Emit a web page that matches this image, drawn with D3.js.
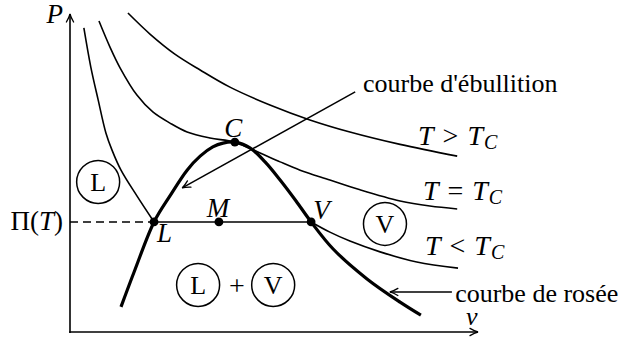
<!DOCTYPE html>
<html>
<head>
<meta charset="utf-8">
<script src="https://cdn.jsdelivr.net/npm/d3@7"></script>
<style>
  body { margin: 0; background: #fff; }
  svg { display: block; }
</style>
</head>
<body>
<svg id="chart" width="631" height="339"></svg>
<script>
// Clapeyron diagram (P, v): isotherms and liquid–vapour saturation curve.
// All values are in arbitrary (v, P) units.

// Isotherm T > Tc
const isoHot = [
  [1.42, 10.03], [1.96, 9.37], [2.57, 8.74], [3.19, 8.24], [3.92, 7.70],
  [4.90, 7.14], [5.88, 6.67], [6.86, 6.29], [8.09, 5.90], [9.49, 5.53]
];

// Critical isotherm T = Tc (passes through C)
const isoCrit = [
  [0.71, 9.78], [0.98, 8.96], [1.23, 8.30], [1.64, 7.45], [2.03, 6.92],
  [2.45, 6.57], [2.87, 6.29], [3.43, 6.10], [4.04, 5.97], [4.66, 5.63],
  [5.15, 5.35], [5.64, 5.09], [6.37, 4.78], [7.11, 4.47], [8.09, 4.12],
  [8.82, 3.96], [9.49, 3.87]
];

// Isotherm T < Tc : liquid branch, plateau at Π(T), vapour branch
const isoColdLiquid = [
  [0.34, 9.56], [0.51, 8.33], [0.69, 7.30], [0.88, 6.26], [1.03, 5.72],
  [1.25, 5.09], [1.64, 4.28], [2.06, 3.46]
];
const isoColdVapour = [
  [5.91, 3.46], [6.37, 3.14], [6.86, 2.86], [7.60, 2.52], [8.50, 2.20], [9.51, 2.01]
];
const plateauP = 3.46;

// Saturation curve: bubble (left) and dew (right) branches meeting at C
const saturation = [
  [1.25, 0.79], [1.59, 1.95], [2.06, 3.46], [2.45, 4.28], [2.87, 5.09],
  [3.19, 5.53], [3.50, 5.82], [3.75, 5.94], [4.04, 5.97], [4.41, 5.79],
  [4.78, 5.35], [5.15, 4.78], [5.54, 4.12], [5.91, 3.46], [6.45, 2.61],
  [7.28, 1.67], [8.09, 0.94], [8.60, 0.53]
];

// Marked states
const states = [
  { name: "L", v: 2.06, P: 3.46, lv: 2.13, lP: 2.83, anchor: "start" },
  { name: "M", v: 3.65, P: 3.46, lv: 3.63, lP: 3.62, anchor: "middle" },
  { name: "V", v: 5.91, P: 3.46, lv: 5.96, lP: 3.55, anchor: "start" },
  { name: "C", v: 4.04, P: 5.97, lv: 4.00, lP: 6.13, anchor: "middle" }
];

// Phase-region tags
const phaseTags = [
  { tag: "L", v: 0.69, P: 4.72 },
  { tag: "L", v: 3.14, P: 1.48 },
  { tag: "V", v: 4.98, P: 1.48 },
  { tag: "V", v: 7.72, P: 3.40 }
];
const plusPos = [4.09, 1.48];

// Isotherm labels
const isoLabels = [
  { rel: ">", v: 8.53, P: 5.88 },
  { rel: "=", v: 8.65, P: 4.15 },
  { rel: "<", v: 8.70, P: 2.42 }
];

// Curve names with their pointer arrows
const curveNames = [
  { text: "courbe d'ébullition", v: 7.18, P: 7.55, from: [6.99, 7.55], to: [2.75, 4.53] },
  { text: "courbe de rosée", v: 9.44, P: 0.94, from: [9.36, 1.26], to: [7.84, 1.26] }
];

const FONT = "Liberation Serif";

const x = d3.scaleLinear().domain([0, 10]).range([70, 478]);
const y = d3.scaleLinear().domain([0, 10]).range([332, 14]);

const svg = d3.select("#chart");

function addText(px, py, size) {
  return svg.append("text")
    .attr("x", px).attr("y", py)
    .style("font-family", FONT)
    .style("font-size", size + "px")
    .style("fill", "#000");
}

// open arrowhead
svg.append("defs").append("marker")
  .attr("id", "arrow")
  .attr("viewBox", "-10 -6 12 12")
  .attr("refX", 0).attr("refY", 0)
  .attr("markerWidth", 12).attr("markerHeight", 12)
  .attr("markerUnits", "userSpaceOnUse")
  .attr("orient", "auto")
  .append("path")
  .attr("d", "M-8,-3.6 Q-3.5,-0.9 0,0 Q-3.5,0.9 -8,3.6")
  .attr("fill", "none")
  .attr("stroke", "#000")
  .attr("stroke-width", 1.3)
  .attr("stroke-linecap", "round");

// axes
svg.append("line")
  .attr("x1", x(0)).attr("y1", y(0) + 1)
  .attr("x2", x(0)).attr("y2", y(10))
  .attr("stroke", "#000").attr("stroke-width", 1.6)
  .attr("marker-end", "url(#arrow)");
svg.append("line")
  .attr("x1", x(0) - 0.8).attr("y1", y(0))
  .attr("x2", x(10)).attr("y2", y(0))
  .attr("stroke", "#000").attr("stroke-width", 1.6)
  .attr("marker-end", "url(#arrow)");

addText(x(0) - 7, y(9.72), 27)
  .attr("text-anchor", "end").style("font-style", "italic").text("P");
addText(x(9.85), y(0.22), 26)
  .attr("text-anchor", "middle").style("font-style", "italic").text("v");

const line = d3.line().x(d => x(d[0])).y(d => y(d[1])).curve(d3.curveCatmullRom.alpha(0.5));

[isoHot, isoCrit, isoColdLiquid, isoColdVapour].forEach(pts => {
  svg.append("path")
    .attr("d", line(pts))
    .attr("fill", "none")
    .attr("stroke", "#000")
    .attr("stroke-width", 1.6);
});

// plateau L–V
const Lst = states.find(s => s.name === "L");
const Vst = states.find(s => s.name === "V");
svg.append("line")
  .attr("x1", x(Lst.v)).attr("y1", y(plateauP))
  .attr("x2", x(Vst.v)).attr("y2", y(plateauP))
  .attr("stroke", "#000").attr("stroke-width", 1.6);

// dashed projection onto the P axis
svg.append("line")
  .attr("x1", x(0)).attr("y1", y(plateauP))
  .attr("x2", x(Lst.v)).attr("y2", y(plateauP))
  .attr("stroke", "#000").attr("stroke-width", 1.5)
  .attr("stroke-dasharray", "8,5");

const piLabel = addText(x(0) - 7, y(plateauP) + 8, 27).attr("text-anchor", "end");
piLabel.append("tspan").text("Π(");
piLabel.append("tspan").style("font-style", "italic").text("T");
piLabel.append("tspan").text(")");

// saturation curve
svg.append("path")
  .attr("d", line(saturation))
  .attr("fill", "none")
  .attr("stroke", "#000")
  .attr("stroke-width", 3.2);

// state points and names
states.forEach(s => {
  svg.append("circle")
    .attr("cx", x(s.v)).attr("cy", y(s.P))
    .attr("r", 4.4).attr("fill", "#000");
  addText(x(s.lv), y(s.lP), 27)
    .attr("text-anchor", s.anchor)
    .style("font-style", "italic")
    .text(s.name);
});

// circled phase tags
phaseTags.forEach(t => {
  svg.append("circle")
    .attr("cx", x(t.v)).attr("cy", y(t.P))
    .attr("r", 21.5)
    .attr("fill", "none").attr("stroke", "#000").attr("stroke-width", 1.5);
  addText(x(t.v), y(t.P), 26)
    .attr("dy", "0.35em")
    .attr("text-anchor", "middle")
    .text(t.tag);
});
addText(x(plusPos[0]), y(plusPos[1]), 28)
  .attr("dy", "0.35em")
  .attr("text-anchor", "middle")
  .text("+");

// isotherm labels
isoLabels.forEach(l => {
  const t = addText(x(l.v), y(l.P), 28);
  t.append("tspan").style("font-style", "italic").text("T");
  t.append("tspan").attr("dx", 9).text(l.rel);
  t.append("tspan").attr("dx", 9).style("font-style", "italic").text("T");
  t.append("tspan").attr("dx", 1).attr("dy", 4).style("font-size", "20px")
    .style("font-style", "italic").text("C");
});

// curve names with arrows
curveNames.forEach(c => {
  svg.append("line")
    .attr("x1", x(c.from[0])).attr("y1", y(c.from[1]))
    .attr("x2", x(c.to[0])).attr("y2", y(c.to[1]))
    .attr("stroke", "#000").attr("stroke-width", 1.5)
    .attr("marker-end", "url(#arrow)");
  addText(x(c.v), y(c.P), 26).text(c.text);
});
</script>
</body>
</html>
